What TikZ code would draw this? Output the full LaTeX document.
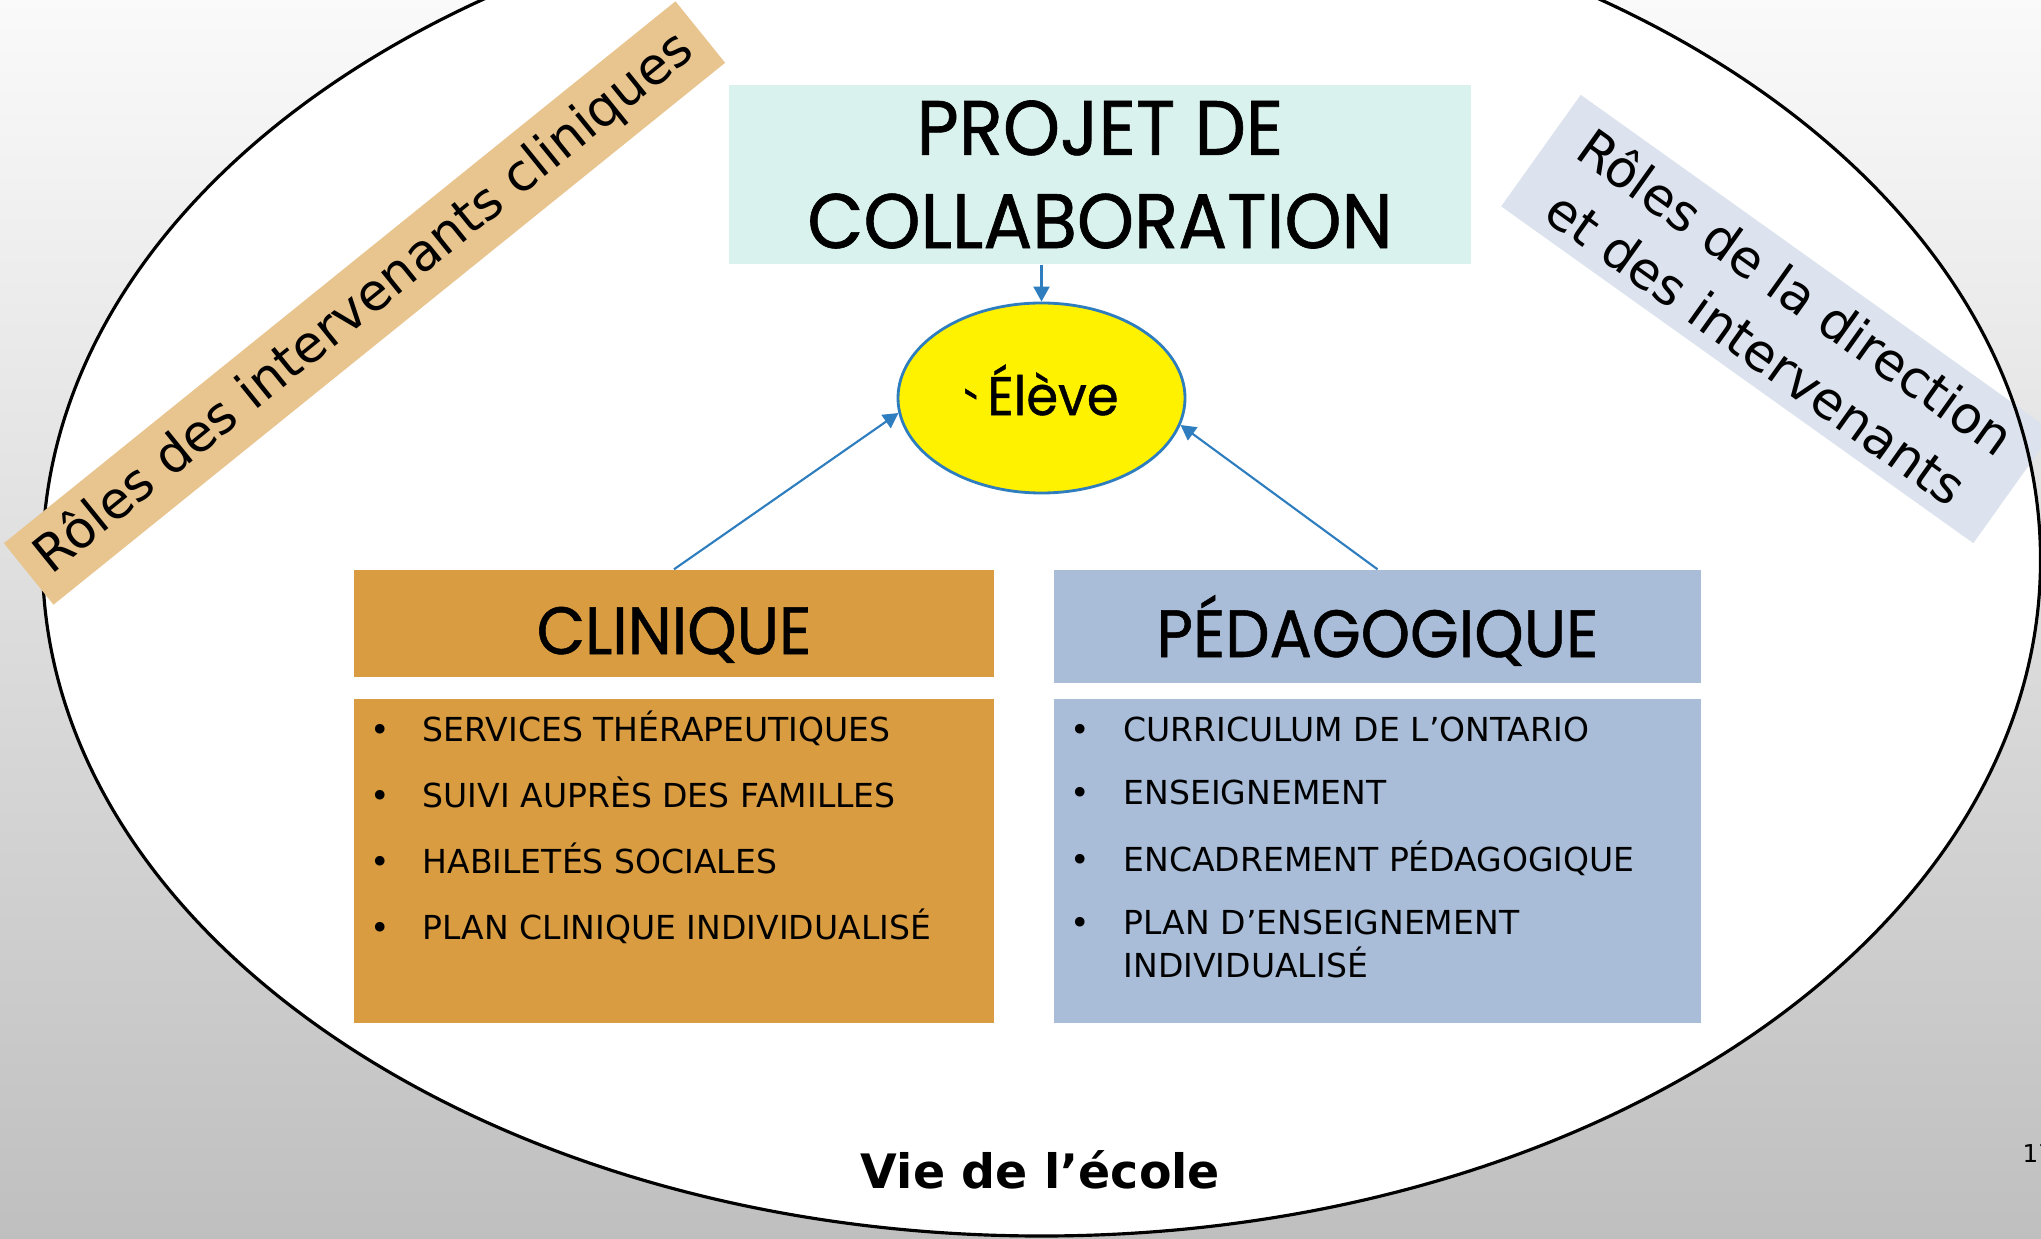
\documentclass[tikz,border=0pt]{standalone}
\usepackage{fontspec}
\setmainfont{DejaVu Sans}
\newfontfamily\geofont[FakeStretch=0.94, FakeBold=0.8]{Poppins}
\usetikzlibrary{shapes.geometric,arrows.meta}

\definecolor{mintbox}{RGB}{218,242,238}
\definecolor{clinorange}{RGB}{217,156,64}
\definecolor{pedblue}{RGB}{169,189,216}
\definecolor{tanband}{RGB}{232,196,142}
\definecolor{blueband}{RGB}{220,227,238}
\definecolor{linkblue}{RGB}{46,125,190}

\begin{document}
\begin{tikzpicture}[
    headbox/.style={minimum width=6.40cm, inner sep=0pt, text height=0.61cm, text depth=0pt, font=\geofont\fontsize{19}{23}\selectfont},
    listbox/.style={minimum width=6.40cm, minimum height=3.24cm, inner sep=0pt},
    listtext/.style={anchor=base west, inner sep=0pt, font=\fontsize{9.4}{11.6}\selectfont},
    band/.style={inner sep=0pt, font=\fontsize{14.6}{19.5}\selectfont},
    link/.style={draw=linkblue, line width=0.6pt, -{Triangle[length=1.5mm,width=1.6mm]}}
]

    % Page and grey background
    \useasboundingbox (0,0) rectangle (20.41,-12.39);
    \shade[top color=black!2, bottom color=black!25] (0,0) rectangle (20.41,-12.39);

    % Vie de l'ecole: the big ellipse
    \fill[white] (10.415,-5.60) ellipse (9.99 and 6.76);
    \node[band, fill=blueband, rotate=-35.5, minimum width=5.80cm, minimum height=1.37cm, align=center] (roledir) at (17.77,-3.19) {Rôles de la direction\\et des intervenants};
    \draw[line width=0.9pt] (10.415,-5.60) ellipse (9.99 and 6.76);
    \node[band, fill=tanband, rotate=38.9, minimum width=8.63cm, minimum height=0.79cm] (roleclin) at (3.645,-3.03) {Rôles des intervenants cliniques};

    % Title and student
    \node[fill=mintbox, minimum width=7.42cm, minimum height=1.79cm, inner sep=0pt, align=center, font=\geofont\fontsize{22}{26.5}\selectfont] (projet) at (11.0,-1.745) {PROJET DE\\COLLABORATION};
    \node[ellipse, draw=linkblue, line width=0.8pt, fill=yellow, minimum width=2.87cm, minimum height=1.90cm, inner sep=0pt, font=\geofont\fontsize{15.5}{18}\selectfont] (eleve) at (10.415,-3.98) {\raisebox{-0.3em}{\textasciigrave}\,Élève};

    % Clinique column
    \node[headbox, fill=clinorange, minimum height=1.07cm] (clin) at (6.74,-6.235) {CLINIQUE};
    \node[listbox, fill=clinorange] (clinbody) at (6.74,-8.61) {};
    \node[listtext] (clinlist) at (3.70,-7.41) {\begin{tabular}[t]{@{}p{0.52cm}@{}l@{}}
        \textbullet & SERVICES THÉRAPEUTIQUES\\[6.6pt]
        \textbullet & SUIVI AUPRÈS DES FAMILLES\\[6.6pt]
        \textbullet & HABILETÉS SOCIALES\\[6.6pt]
        \textbullet & PLAN CLINIQUE INDIVIDUALISÉ
    \end{tabular}};

    % Pedagogique column
    \node[headbox, fill=pedblue, minimum width=6.47cm, minimum height=1.13cm] (peda) at (13.775,-6.265) {PÉDAGOGIQUE};
    \node[listbox, fill=pedblue, minimum width=6.47cm] (pedabody) at (13.775,-8.61) {};
    \node[listtext] (pedalist) at (10.70,-7.41) {\begin{tabular}[t]{@{}p{0.53cm}@{}l@{}}
        \textbullet & CURRICULUM DE L’ONTARIO\\[6.6pt]
        \textbullet & ENSEIGNEMENT\\[6.6pt]
        \textbullet & ENCADREMENT PÉDAGOGIQUE\\[6.6pt]
        \textbullet & PLAN D’ENSEIGNEMENT\\
                    & INDIVIDUALISÉ
    \end{tabular}};

    % Arrows to the student
    \draw[link] (projet.south -| eleve.north) -- (eleve.north);
    \draw[link] (clin.north) -- (eleve.186);
    \draw[link] (peda.north) -- (eleve.-11);

    \node[anchor=base, font=\bfseries\fontsize{13.5}{16}\selectfont] (vie) at (10.405,-11.88) {Vie de l’école};
    \node[anchor=base west, inner sep=0pt, font=\fontsize{7}{8}\selectfont] (pagenum) at (20.22,-11.62) {17};

\end{tikzpicture}
\end{document}
